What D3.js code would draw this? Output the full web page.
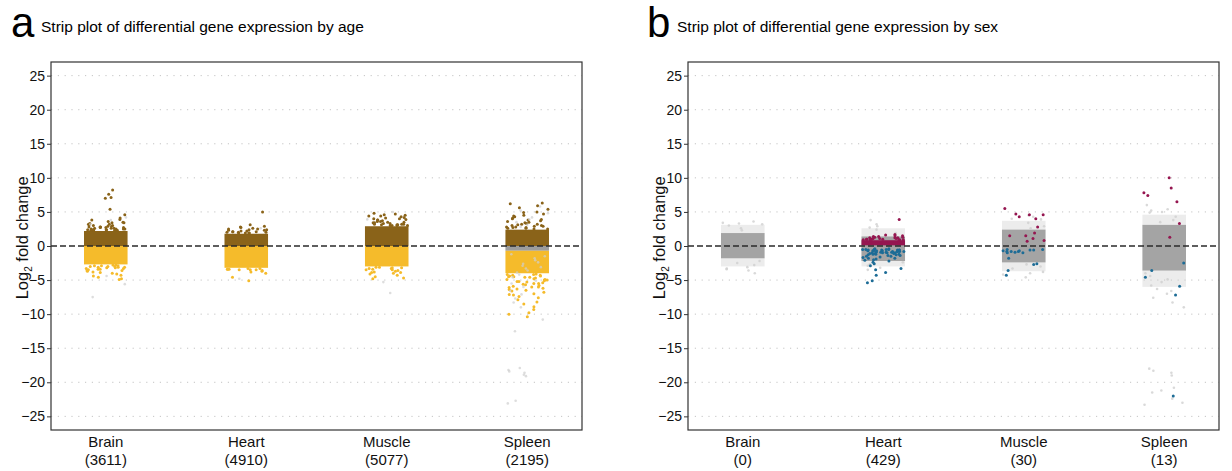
<!DOCTYPE html>
<html>
<head>
<meta charset="utf-8">
<script src="https://cdn.jsdelivr.net/npm/d3@7"></script>
<style>
  body { margin: 0; background: #fff; }
  svg { font-family: "Liberation Sans", Arial, sans-serif; }
</style>
</head>
<body>
<svg id="chart" width="1232" height="471"></svg>
<script>
// ---- data -------------------------------------------------------------
const tissues = ["Brain", "Heart", "Muscle", "Spleen"];
const yTicks = [25, 20, 15, 10, 5, 0, -5, -10, -15, -20, -25];

// number of differentially expressed genes per tissue
const ageCounts = [3611, 4910, 5077, 2195];
const sexCounts = [0, 429, 30, 13];

// age comparison: dense runs of overlapping genes, [low, high] log2 FC
const ageUpBlock   = [[0, 2.2], [0, 1.8], [0, 2.9], [0, 2.4]];
const ageDownBlock = [[-2.7, 0], [-3.2, 0], [-3.0, 0], [-4.0, -0.7]];
const ageFlatBlock = [null, null, null, [-0.7, 0]];

// age comparison: individual genes outside the dense runs
const ageUpPoints = [
  [8.2, 7.6, 7.1, 7.0, 5.4, 4.6, 4.1, 3.9, 3.8, 3.6, 3.5, 3.4, 3.4, 3.3, 3.2, 3.2, 3.1, 3.0, 3.0, 2.9, 2.9, 2.8, 2.8, 2.8, 2.7, 2.7, 2.7, 2.6, 2.6, 2.6, 2.5, 2.5, 2.5, 2.5, 2.4, 2.4, 2.4, 2.4, 2.3, 2.3, 2.3, 2.3, 2.3],
  [5.0, 3.1, 2.9, 2.8, 2.7, 2.6, 2.5, 2.5, 2.4, 2.4, 2.3, 2.3, 2.2, 2.2, 2.1, 2.1, 2.1, 2.0, 2.0, 2.0, 1.9, 1.9, 1.9, 1.9],
  [4.8, 4.7, 4.6, 4.5, 4.4, 4.4, 4.3, 4.2, 4.1, 4.0, 4.0, 3.9, 3.8, 3.8, 3.7, 3.6, 3.6, 3.5, 3.5, 3.4, 3.4, 3.3, 3.3, 3.2, 3.2, 3.2, 3.1, 3.1, 3.1, 3.0, 3.0, 3.0, 3.0],
  [6.3, 6.2, 5.9, 5.6, 5.4, 5.0, 4.9, 4.7, 4.5, 4.4, 4.3, 4.1, 4.0, 3.9, 3.8, 3.7, 3.6, 3.5, 3.4, 3.3, 3.2, 3.2, 3.1, 3.0, 3.0, 2.9, 2.9, 2.8, 2.8, 2.7, 2.7, 2.6, 2.6, 2.5, 2.5]
];
const ageDownPoints = [
  [-2.8, -2.8, -2.9, -2.9, -3.0, -3.0, -3.1, -3.1, -3.2, -3.2, -3.3, -3.4, -3.4, -3.5, -3.6, -3.7, -3.8, -3.9, -4.0, -4.1, -4.3, -4.4, -4.6, -4.8, -4.9, -3.0, -3.3, -3.6, -2.9, -3.1],
  [-3.3, -3.3, -3.4, -3.4, -3.5, -3.5, -3.6, -3.7, -3.8, -4.0, -4.6, -5.1, -3.4, -3.5],
  [-3.1, -3.2, -3.2, -3.3, -3.4, -3.5, -3.6, -3.7, -3.8, -3.9, -4.0, -4.1, -4.3, -4.5, -4.7, -4.8, -3.3, -3.5, -3.1, -3.9],
  [-4.1, -4.2, -4.3, -4.3, -4.4, -4.5, -4.5, -4.6, -4.7, -4.8, -4.9, -5.0, -5.0, -5.1, -5.2, -5.3, -5.4, -5.5, -5.6, -5.8, -5.9, -6.0, -6.0, -6.1, -6.2, -6.3, -6.4, -6.6, -6.8, -7.0, -7.1, -7.2, -7.4, -7.6, -7.9, -8.2, -8.5, -8.9, -9.3, -9.8, -10.0, -10.4, -4.4, -4.6, -4.9, -5.2, -5.5, -5.7, -6.5, -4.2]
];
const ageFaintPoints = [
  [-7.5, -5.6, -4.4, 3.8, 4.2, 3.2],
  [-4.8, 2.6],
  [-6.9, -5.3, 5.0, 3.9],
  [5.8, 5.2, 4.8, 4.2, 3.9, 3.5, 3.1, 2.8, -1.2, -1.5, -1.8, -2.1, -2.4, -2.6, -2.9, -3.1, -3.3, -3.6, -3.9, -4.2, -4.6, -5.1, -5.5, -6.0, -6.6, -7.1, -7.7, -8.3, -9.0, -10.8, -12.5, -17.9, -18.2, -18.4, -18.6, -18.9, -19.1, -22.7, -23.1]
];

// sex comparison: dense runs of unchanged genes and their sparse halo
const sexFlatBlock = [[-1.8, 1.9], [-2.2, 1.4], [-2.4, 2.4], [-3.6, 3.1]];
const sexHaloBlock = [[-3.0, 3.1], [-3.0, 2.6], [-3.7, 3.7], [-6.0, 4.6]];
const sexUpBlock   = [null, [0.1, 0.85], null, null];

// sex comparison: individual genes
const sexUpPoints = [
  [],
  [3.9, 1.7, 1.6, 1.5, 1.5, 1.4, 1.4, 1.3, 1.3, 1.2, 1.2, 1.2, 1.1, 1.1, 1.1, 1.0, 1.0, 1.0, 1.0, 0.9, 0.9, 0.9, 0.9, 0.9],
  [5.5, 4.7, 4.6, 4.6, 4.3, 4.0, 2.8, 1.9, 1.5, 1.5, 1.1, 0.8, 0.7],
  [10.0, 8.5, 7.8, 7.4, 6.5, 3.3, 1.3]
];
const sexDownPoints = [
  [],
  [-0.4, -0.4, -0.5, -0.5, -0.5, -0.6, -0.6, -0.6, -0.7, -0.7, -0.7, -0.8, -0.8, -0.8, -0.9, -0.9, -0.9, -1.0, -1.0, -1.0, -1.1, -1.1, -1.2, -1.2, -1.3, -1.3, -1.4, -1.4, -1.5, -1.6, -1.7, -1.8, -1.9, -2.0, -2.1, -2.2, -2.4, -2.6, -2.9, -3.3, -3.5, -3.9, -4.3, -5.1, -5.4, -0.5, -0.6, -0.7, -0.8, -0.9, -1.0, -1.1, -0.5, -0.6, -0.7, -0.8, -0.9, -1.2, -1.5, -1.8],
  [-0.5, -0.6, -0.7, -0.8, -0.8, -0.8, -0.7, -0.6, -0.9, -1.0, -1.0, -1.8, -2.6, -2.7, -3.6, -4.3, -0.5],
  [-2.5, -3.6, -4.6, -5.9, -7.2, -22.0]
];
const sexFaintPoints = [
  [3.6, 3.4, 3.3, 3.2, 3.0, 2.6, 2.3, -2.2, -2.5, -2.8, -3.1, -3.3, -3.4, -3.6, -4.0],
  [3.8, 3.2, 2.9, 2.7, 2.4, 1.9, -2.4, -2.7, -2.9, -3.2, -3.5],
  [4.5, 4.3, 4.0, 3.9, 3.4, 2.9, 2.6, -2.7, -3.0, -3.3, -3.8, -4.0, -4.2, -4.6],
  [6.0, 5.4, 5.2, 5.0, 4.9, 4.3, 3.8, 3.5, -4.0, -4.4, -4.9, -5.3, -5.8, -6.3, -6.6, -7.0, -7.6, -8.3, -9.0, -18.0, -18.3, -18.6, -19.0, -20.8, -21.2, -21.5, -22.4, -23.0, -23.3]
];

// ---- drawing ----------------------------------------------------------
const svg = d3.select("#chart");
const plotTop = 62, plotBottom = 430;
const y = d3.scaleLinear().domain([-27, 27]).range([plotBottom, plotTop]);

const colors = {
  ageUp: "#8a6319", ageDown: "#f5bb2b",
  sexUp: "#951650", sexDown: "#1d6c96",
  flat: "#9c9c9c", faint: "#cfcfcf"
};

// deterministic horizontal jitter inside a strip (hash of the point index)
function jitter(i, seed) {
  const s = Math.sin((i + 1) * 12.9898 + seed * 78.233) * 43758.5453;
  return s - Math.floor(s) - 0.5;
}

function panel(opts) {
  const { left, right, letter, title, counts, letterX } = opts;
  const x = d3.scalePoint().domain(tissues).range([left, right]).padding(0.39);
  const stripW = x.step() * 0.31;
  const g = svg.append("g");

  // heading
  g.append("text").attr("x", letterX).attr("y", 37)
    .attr("font-size", 42).attr("fill", "#000").text(letter);
  g.append("text").attr("x", letterX + 30).attr("y", 32)
    .attr("font-size", 15.5).attr("fill", "#000").text(title);

  // grid
  g.append("g").selectAll("line").data(yTicks.filter(d => d !== 0)).join("line")
    .attr("x1", left).attr("x2", right)
    .attr("y1", d => y(d)).attr("y2", d => y(d))
    .attr("stroke", "#c4c4c4").attr("stroke-width", 1)
    .attr("stroke-dasharray", "1.2,5.6");

  const marks = g.append("g");

  function block(arr, color, opacity) {
    marks.append("g").selectAll("rect")
      .data(tissues.map((t, i) => ({ t, r: arr[i] })).filter(d => d.r))
      .join("rect")
      .attr("x", d => x(d.t) - stripW / 2)
      .attr("width", stripW)
      .attr("y", d => y(d.r[1]))
      .attr("height", d => y(d.r[0]) - y(d.r[1]))
      .attr("fill", color).attr("opacity", opacity);
  }
  function dots(arr, color, seed, opacity, r) {
    const pts = [];
    tissues.forEach((t, i) => arr[i].forEach((v, k) => pts.push({ t, v, k, i })));
    marks.append("g").selectAll("circle").data(pts).join("circle")
      .attr("cx", d => x(d.t) + jitter(d.k, seed + d.i * 3.1) * (stripW - 2))
      .attr("cy", d => y(d.v))
      .attr("r", r)
      .attr("fill", color).attr("opacity", opacity);
  }

  opts.draw(block, dots);

  // zero reference
  g.append("line").attr("x1", left).attr("x2", right)
    .attr("y1", y(0)).attr("y2", y(0))
    .attr("stroke", "#2a2a2a").attr("stroke-width", 1.3)
    .attr("stroke-dasharray", "6,3");

  // frame
  g.append("rect").attr("x", left).attr("y", plotTop)
    .attr("width", right - left).attr("height", plotBottom - plotTop)
    .attr("fill", "none").attr("stroke", "#333").attr("stroke-width", 1.2);

  // y axis
  const ax = g.append("g").attr("transform", `translate(${left},0)`)
    .call(d3.axisLeft(y).tickValues(yTicks).tickSize(4).tickPadding(2));
  ax.select(".domain").remove();
  ax.selectAll("line").attr("stroke", "#333");
  ax.selectAll("text").attr("font-size", 14).attr("fill", "#111")
    .attr("font-family", "Liberation Sans, Arial, sans-serif");

  const yt = g.append("text")
    .attr("transform", `translate(${left - 23},${y(1.2)}) rotate(-90)`)
    .attr("text-anchor", "middle").attr("font-size", 16.5).attr("fill", "#111");
  yt.append("tspan").text("Log");
  yt.append("tspan").attr("font-size", 10).attr("dy", 4).text("2");
  yt.append("tspan").attr("dy", -4).text(" fold change");

  // category labels
  const xl = g.append("g").selectAll("g").data(tissues).join("g")
    .attr("transform", d => `translate(${x(d)},0)`);
  xl.append("text").attr("y", 447).attr("text-anchor", "middle")
    .attr("font-size", 15).attr("fill", "#111").text(d => d);
  xl.append("text").attr("y", 465).attr("text-anchor", "middle")
    .attr("font-size", 15).attr("fill", "#111")
    .text((d, i) => `(${counts[i]})`);
}

panel({
  left: 51, right: 582, letter: "a", letterX: 11,
  title: "Strip plot of differential gene expression by age",
  counts: ageCounts,
  draw(block, dots) {
    block(ageFlatBlock, colors.flat, 1);
    block(ageUpBlock, colors.ageUp, 1);
    block(ageDownBlock, colors.ageDown, 1);
    dots(ageUpPoints, colors.ageUp, 0.11, 1, 1.5);
    dots(ageDownPoints, colors.ageDown, 0.37, 1, 1.5);
    dots(ageFaintPoints, colors.faint, 0.73, 0.7, 1.3);
  }
});

panel({
  left: 688, right: 1219, letter: "b", letterX: 647,
  title: "Strip plot of differential gene expression by sex",
  counts: sexCounts,
  draw(block, dots) {
    block(sexHaloBlock, colors.faint, 0.4);
    block(sexFlatBlock, colors.flat, 0.9);
    dots(sexFaintPoints, colors.faint, 0.29, 0.8, 1.3);
    block(sexUpBlock, colors.sexUp, 1);
    dots(sexUpPoints, colors.sexUp, 0.53, 1, 1.5);
    dots(sexDownPoints, colors.sexDown, 0.81, 1, 1.5);
  }
});
</script>
</body>
</html>
